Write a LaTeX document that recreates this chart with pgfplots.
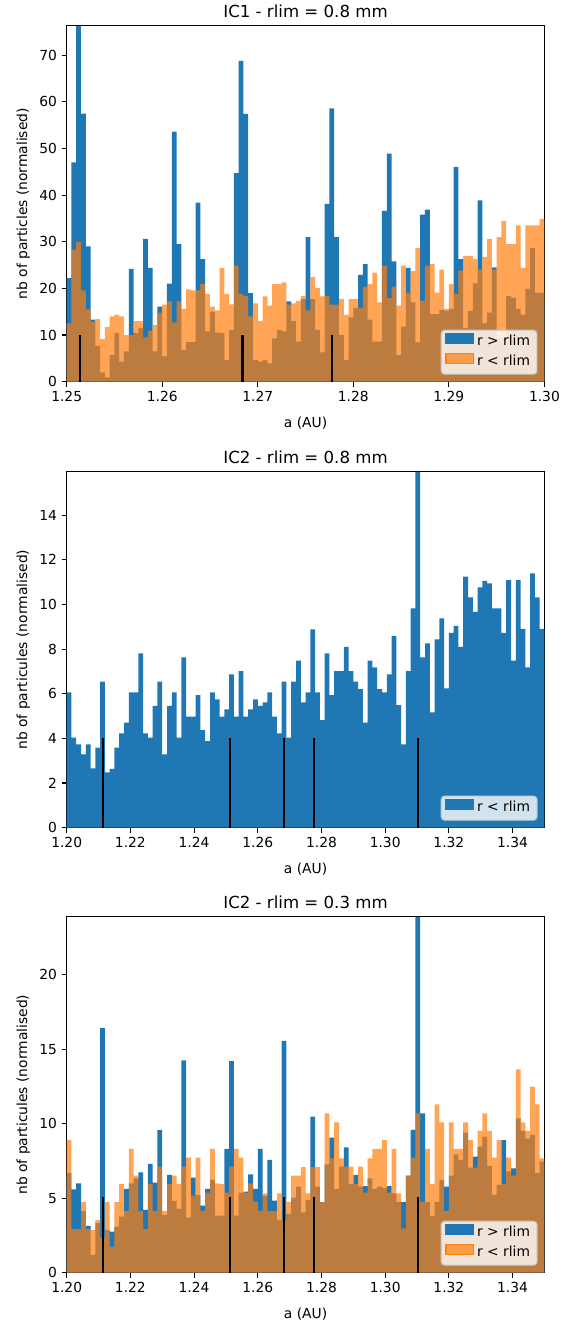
\documentclass[border=0pt]{standalone}
\usepackage{fontspec}
\setmainfont{DejaVu Sans}
\usepackage{pgfplots}
\usepackage{pgfplotstable}
\pgfplotsset{compat=1.18}
\definecolor{c0}{HTML}{1F77B4}
\definecolor{c1}{HTML}{FF7F0E}

\pgfplotstableread{
x b o
1.2500 22.2 12.5
1.2505 47.0 28.3
1.2510 76.3 30.0
1.2515 57.5 19.6
1.2520 29.0 15.6
1.2525 13.3 12.8
1.2530 7.7 13.4
1.2535 2.0 9.1
1.2540 0.9 11.7
1.2545 5.7 14.0
1.2550 10.4 14.4
1.2555 4.3 14.0
1.2560 6.5 10.0
1.2565 24.2 10.0
1.2570 10.4 13.0
1.2575 11.5 13.0
1.2580 30.6 9.5
1.2585 24.4 10.9
1.2590 6.5 12.2
1.2595 16.1 14.8
1.2600 5.4 16.5
1.2605 21.0 17.2
1.2610 53.6 12.7
1.2615 29.5 17.2
1.2620 6.8 15.6
1.2625 8.5 19.8
1.2630 8.5 19.6
1.2635 38.4 19.6
1.2640 26.3 20.9
1.2645 10.8 18.8
1.2650 15.0 16.1
1.2655 10.5 15.3
1.2660 10.4 24.4
1.2665 4.6 18.8
1.2670 11.1 16.6
1.2675 44.7 24.9
1.2680 68.8 18.8
1.2685 57.4 18.4
1.2690 19.0 14.0
1.2695 4.7 16.8
1.2700 4.3 13.0
1.2705 4.7 18.3
1.2710 3.9 16.3
1.2715 9.3 20.9
1.2720 11.1 20.9
1.2725 10.8 21.3
1.2730 17.2 16.5
1.2735 13.0 16.8
1.2740 8.6 17.3
1.2745 17.7 18.4
1.2750 31.0 15.3
1.2755 17.7 22.4
1.2760 11.1 20.1
1.2765 6.3 18.3
1.2770 38.1 18.4
1.2775 58.6 16.5
1.2780 31.0 16.5
1.2785 10.0 17.7
1.2790 4.7 14.3
1.2795 13.8 17.7
1.2800 15.8 17.7
1.2805 22.9 15.8
1.2810 25.2 20.4
1.2815 13.3 20.9
1.2820 8.6 23.4
1.2825 8.6 17.0
1.2830 36.6 24.9
1.2835 48.9 17.9
1.2840 25.8 20.4
1.2845 5.7 16.3
1.2850 11.8 24.9
1.2855 24.4 19.1
1.2860 17.0 23.7
1.2865 8.4 28.7
1.2870 35.8 17.3
1.2875 36.9 24.9
1.2880 14.5 25.2
1.2885 14.5 19.1
1.2890 15.4 24.0
1.2895 15.2 15.6
1.2900 15.6 20.9
1.2905 46.0 18.8
1.2910 26.3 23.8
1.2915 11.5 27.0
1.2920 15.2 27.0
1.2925 21.1 26.3
1.2930 38.9 24.0
1.2935 12.5 26.7
1.2940 14.8 30.6
1.2945 24.5 24.0
1.2950 9.3 31.0
1.2955 9.3 34.4
1.2960 18.4 29.5
1.2965 18.0 29.5
1.2970 15.6 33.5
1.2975 14.3 24.4
1.2980 19.9 33.5
1.2985 28.7 33.5
1.2990 19.1 33.5
1.2995 19.1 34.9
1.3000 19.1 34.9
}\tabA

\pgfplotstableread{
x p b o
1.2000 6.06 6.68 8.92
1.2015 4.03 5.60 2.93
1.2030 3.73 6.00 2.93
1.2045 3.28 4.14 4.73
1.2060 3.73 3.14 2.93
1.2075 2.66 1.19 2.87
1.2090 3.58 3.32 3.54
1.2105 6.54 16.42 2.37
1.2120 2.48 2.87 4.73
1.2135 2.63 2.75 1.75
1.2150 3.58 3.09 4.73
1.2165 4.22 3.76 5.94
1.2180 4.70 5.62 4.14
1.2195 6.06 6.00 8.31
1.2210 6.06 6.34 6.52
1.2225 7.81 6.74 4.14
1.2240 4.22 4.21 2.93
1.2255 4.03 7.30 5.94
1.2270 5.46 6.05 4.14
1.2285 6.54 9.59 7.12
1.2300 3.28 3.88 4.14
1.2315 5.46 6.56 5.94
1.2330 6.06 4.82 6.52
1.2345 4.03 4.28 5.94
1.2360 7.63 14.25 7.12
1.2375 4.97 3.70 7.73
1.2390 4.97 6.38 5.17
1.2405 5.94 5.20 7.73
1.2420 4.37 4.50 4.17
1.2435 3.88 5.62 5.38
1.2450 6.06 6.23 8.31
1.2465 5.75 3.83 6.00
1.2480 4.97 3.83 5.94
1.2495 5.30 8.31 5.38
1.2510 6.87 14.20 7.12
1.2525 4.97 3.83 8.31
1.2540 7.01 5.38 7.73
1.2555 4.97 5.44 5.38
1.2570 5.30 6.60 6.00
1.2585 5.75 5.62 4.77
1.2600 5.46 8.31 4.17
1.2615 5.61 5.17 5.33
1.2630 6.06 7.57 4.14
1.2645 4.97 4.84 4.14
1.2660 4.22 3.54 5.33
1.2675 6.54 15.57 3.54
1.2690 4.03 3.94 4.73
1.2705 6.54 5.04 6.52
1.2720 7.48 5.78 6.52
1.2735 5.61 4.05 7.08
1.2750 6.06 4.88 5.33
1.2765 8.88 10.48 7.08
1.2780 6.06 5.78 7.08
1.2795 4.82 4.73 4.73
1.2810 7.81 7.28 10.70
1.2825 5.94 9.07 7.68
1.2840 7.01 5.62 10.10
1.2855 7.01 7.12 7.68
1.2870 8.10 8.42 7.12
1.2885 7.01 5.94 7.12
1.2900 6.54 6.56 5.94
1.2915 6.21 5.78 7.12
1.2930 4.70 5.82 5.38
1.2945 7.48 6.34 7.68
1.2960 7.18 5.62 8.31
1.2975 6.21 5.78 8.31
1.2990 6.06 5.67 8.92
1.3005 6.87 5.82 5.38
1.3020 8.58 5.33 8.31
1.3035 5.49 4.73 5.33
1.3050 3.73 4.73 2.98
1.3065 7.01 6.52 6.52
1.3080 9.82 9.59 7.73
1.3095 15.94 23.90 10.70
1.3110 7.63 10.70 4.77
1.3125 8.25 4.73 8.31
1.3140 5.16 3.81 5.94
1.3155 8.43 4.73 11.30
1.3170 9.37 6.23 10.10
1.3185 6.24 5.78 4.14
1.3200 8.73 6.52 10.10
1.3215 9.04 7.95 8.31
1.3230 8.10 7.57 8.31
1.3245 11.24 9.41 10.10
1.3260 10.31 7.06 8.92
1.3275 9.67 7.80 7.06
1.3290 10.76 8.47 9.52
1.3305 11.06 9.14 10.70
1.3320 10.94 7.17 9.52
1.3335 9.82 5.22 7.73
1.3350 9.82 5.90 8.92
1.3365 8.73 8.90 5.94
1.3380 11.09 6.80 7.73
1.3395 7.48 7.00 6.52
1.3410 11.09 10.37 13.66
1.3425 8.90 9.52 10.10
1.3440 7.18 9.00 9.52
1.3455 11.39 9.25 12.50
1.3470 10.31 6.68 11.30
1.3485 8.90 7.46 7.68
1.3500 8.90 7.46 7.68
}\tabB

\pgfplotsset{
  mpl/.style={
    scale only axis, width=344bp, height=256.2bp, anchor=south west,
    ymin=0, scaled ticks=false,
    axis line style={black, line width=0.8bp},
    tick style={black, line width=0.8bp},
    major tick length=3.5bp, tick align=outside,
    xtick pos=left, ytick pos=left,
    font=\fontsize{10}{12}\selectfont,
    ticklabel style={font=\fontsize{10}{12}\selectfont},
    /pgf/number format/assume math mode=true,
    xticklabel style={/pgf/number format/fixed, /pgf/number format/fixed zerofill, /pgf/number format/precision=2},
    title style={font=\fontsize{12}{14}\selectfont, at={(axis description cs:0.5,1)}, anchor=base, inner sep=0pt},
    xlabel={a (AU)},
    xlabel style={at={(axis description cs:0.5,0)}, anchor=base, yshift=-33bp, inner sep=0pt},
    ylabel style={at={(axis description cs:-0.083,0.5)}, anchor=base, inner sep=0pt},
    legend cell align=left,
    legend style={at={(axis description cs:1,0)}, anchor=south east, xshift=-5bp, yshift=5bp,
      draw=black!20, line width=0.8bp, rounded corners=2.5bp, fill=white, fill opacity=0.8, text opacity=1,
      font=\fontsize{10}{12}\selectfont, inner xsep=3bp, inner ysep=1.5bp, row sep=0pt,
      nodes={inner ysep=2.2bp, text height=7.5bp, text depth=2.4bp}},
  },
  leg/.style={legend image code/.code={\fill[fill opacity=1, sharp corners, #1] (0bp,-0.9bp) rectangle (20bp,6.1bp);}},
}

\begin{document}
\begin{tikzpicture}
\fill[white] (0bp,0bp) rectangle (411.84bp,-953.28bp);

\begin{axis}[mpl, at={(48bp,-274.8bp)},
  xmin=1.25, xmax=1.30, ymax=76.3,
  xtick={1.25,1.26,1.27,1.28,1.29,1.30},
  ytick={0,10,20,30,40,50,60,70},
  title={IC1 - rlim = 0.8 mm},
  ylabel={nb of particles (normalised)}]
\addplot[const plot, fill=c0, draw=none, forget plot] table[x=x,y=b]{\tabA} \closedcycle;
\addplot[const plot, fill=c1, fill opacity=0.7, draw=none, forget plot] table[x=x,y=o]{\tabA} \closedcycle;
\addplot[ycomb, black, line width=1.5bp, forget plot] coordinates {(1.2514,10) (1.2684,10) (1.2778,10)};
\addlegendimage{leg=c0}
\addlegendentry{r > rlim}
\addlegendimage{leg={c1,fill opacity=0.7}}
\addlegendentry{r < rlim}
\end{axis}

\begin{axis}[mpl, at={(48bp,-595.9bp)},
  xmin=1.20, xmax=1.35, ymax=15.94,
  xtick={1.20,1.22,1.24,1.26,1.28,1.30,1.32,1.34},
  ytick={0,2,4,6,8,10,12,14},
  title={IC2 - rlim = 0.8 mm},
  ylabel={nb of particules (normalised)}]
\addplot[const plot, fill=c0, draw=none, forget plot] table[x=x,y=p]{\tabB} \closedcycle;
\addplot[ycomb, black, line width=1.5bp, forget plot] coordinates {(1.2114,4) (1.2513,4) (1.2683,4) (1.2777,4) (1.3102,4)};
\addlegendimage{leg=c0}
\addlegendentry{r < rlim}
\end{axis}

\begin{axis}[mpl, at={(48bp,-916.3bp)},
  xmin=1.20, xmax=1.35, ymax=23.9,
  xtick={1.20,1.22,1.24,1.26,1.28,1.30,1.32,1.34},
  ytick={0,5,10,15,20},
  title={IC2 - rlim = 0.3 mm},
  ylabel={nb of particules (normalised)}]
\addplot[const plot, fill=c0, draw=none, forget plot] table[x=x,y=b]{\tabB} \closedcycle;
\addplot[const plot, fill=c1, fill opacity=0.7, draw=none, forget plot] table[x=x,y=o]{\tabB} \closedcycle;
\addplot[ycomb, black, line width=1.5bp, forget plot] coordinates {(1.2114,5.05) (1.2513,5.05) (1.2683,5.05) (1.2777,5.05) (1.3102,5.05)};
\addlegendimage{leg=c0}
\addlegendentry{r > rlim}
\addlegendimage{leg={c1,fill opacity=0.7}}
\addlegendentry{r < rlim}
\end{axis}
\end{tikzpicture}
\end{document}
